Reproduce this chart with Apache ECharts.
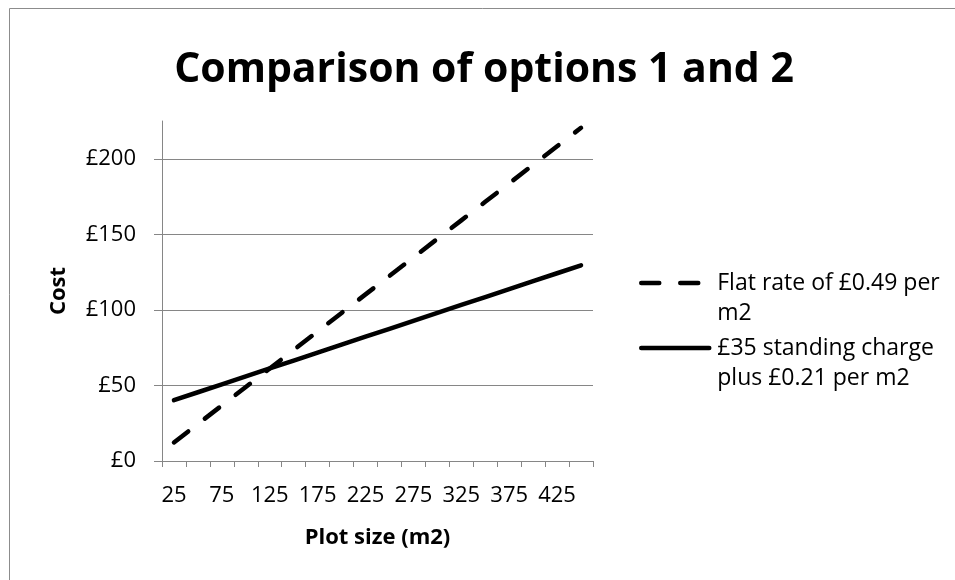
<!DOCTYPE html>
<html>
<head>
<meta charset="utf-8">
<script src="https://cdn.jsdelivr.net/npm/echarts@6/dist/echarts.min.js"></script>
<style>
html,body{margin:0;padding:0;background:#fff;}
#chart{width:955px;height:580px;}
</style>
</head>
<body>
<div id="chart"></div>
<script>
// Data
const plotSizes = ['25','50','75','100','125','150','175','200','225','250','275','300','325','350','375','400','425','450'];
const flatRate = [12.25,24.5,36.75,49,61.25,73.5,85.75,98,110.25,122.5,134.75,147,159.25,171.5,183.75,196,208.25,220.5];
const standingCharge = [40.25,45.5,50.75,56,61.25,66.5,71.75,77,82.25,87.5,92.75,98,103.25,108.5,113.75,119,124.25,129.5];
const costTicks = [0, 50, 100, 150, 200];
const seriesNames = ['Flat rate of £0.49 per\nm2', '£35 standing charge\nplus £0.21 per m2'];
const titleText = 'Comparison of options 1 and 2';
const xName = 'Plot size (m2)';
const yName = 'Cost';

const FONT = 'Open Sans';
const GREY = '#868686';
const chart = echarts.init(document.getElementById('chart'), null, {renderer: 'canvas'});
chart.setOption({
  animation: false,
  backgroundColor: '#fff',
  textStyle: {fontFamily: FONT, color: '#000'},
  graphic: [{
    type: 'rect', shape: {x: 9.5, y: 8.5, width: 980, height: 600},
    style: {fill: 'none', stroke: '#8c8c8c', lineWidth: 1}, silent: true, z: -10
  }],
  title: {
    text: titleText, left: 484, top: 50, textAlign: 'center', padding: 0,
    textStyle: {fontFamily: FONT, fontWeight: 'bold', fontSize: 41, color: '#000'}
  },
  grid: {left: 162, right: 362, top: 121, bottom: 119, containLabel: false},
  legend: {
    orient: 'vertical', left: 639, top: 238, padding: 0,
    itemWidth: 68, itemHeight: 14, itemGap: -25,
    itemStyle: {opacity: 0},
    lineStyle: {width: 4.5, cap: 'round'},
    data: seriesNames,
    formatter: name => '\n' + name,
    textStyle: {fontFamily: FONT, fontSize: 23, color: '#000', lineHeight: 30, padding: [0, 0, 0, 3]}
  },
  xAxis: {
    type: 'category', data: plotSizes, boundaryGap: true,
    name: xName, nameLocation: 'middle', nameGap: 66,
    nameTextStyle: {fontFamily: FONT, fontWeight: 'bold', fontSize: 22, color: '#000'},
    axisLine: {lineStyle: {color: GREY, width: 1}},
    axisTick: {show: true, interval: 0, length: 6, lineStyle: {color: GREY}},
    axisLabel: {interval: 1, margin: 24, fontFamily: FONT, fontSize: 22, color: '#000'},
    splitLine: {show: false}
  },
  yAxis: {
    type: 'value', min: 0, max: 225, interval: 50,
    name: yName, nameLocation: 'middle', nameGap: 92, nameRotate: 90,
    nameTextStyle: {fontFamily: FONT, fontWeight: 'bold', fontSize: 22, color: '#000'},
    axisLine: {show: true, lineStyle: {color: GREY, width: 1}},
    axisTick: {show: true, length: 8, lineStyle: {color: GREY}, customValues: costTicks},
    axisLabel: {margin: 26, fontFamily: FONT, fontSize: 22, color: '#000',
      customValues: costTicks, formatter: v => '£' + v},
    splitLine: {show: true, lineStyle: {color: GREY, width: 1}}
  },
  series: [
    {
      name: seriesNames[0], type: 'line', data: flatRate, symbol: 'none', showSymbol: false,
      lineStyle: {color: '#000', width: 4.5, type: [18, 21], cap: 'round'},
      itemStyle: {color: '#000'}, z: 3
    },
    {
      name: seriesNames[1], type: 'line', data: standingCharge, symbol: 'none', showSymbol: false,
      lineStyle: {color: '#000', width: 4.5, type: 'solid', cap: 'round'},
      itemStyle: {color: '#000'}, z: 2
    }
  ]
});
</script>
</body>
</html>
